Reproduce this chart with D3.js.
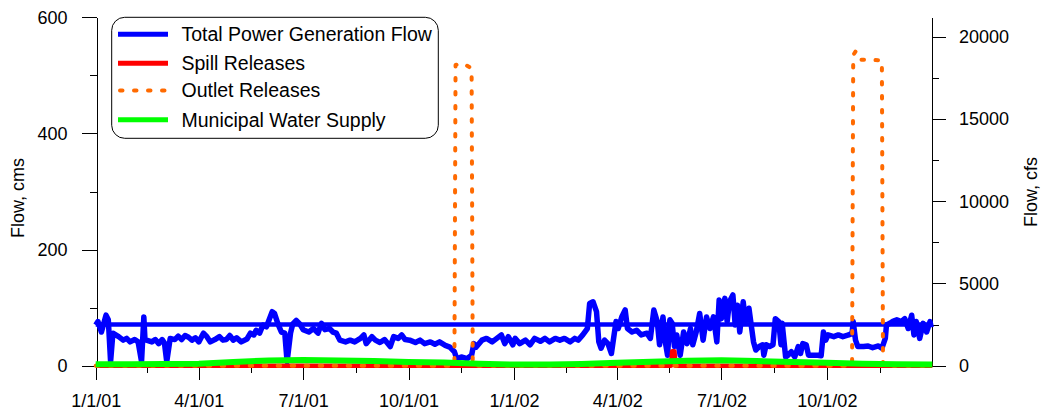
<!DOCTYPE html>
<html>
<head>
<meta charset="utf-8">
<script src="https://cdn.jsdelivr.net/npm/d3@7"></script>
<style>
  body { margin: 0; background: #fff; }
  svg { display: block; font-family: "Liberation Sans", Arial, sans-serif; }
  .axis path, .axis line { stroke: #000; shape-rendering: crispEdges; }
  .axis text { font-size: 18px; fill: #000; }
</style>
</head>
<body>
<svg id="chart" width="1043" height="417"></svg>
<script>
// days counted from 1/1/01, values in cms
var powerDays = [0, 2, 5, 9, 11, 13, 15, 20, 24, 27, 30, 34, 37, 40, 42, 43, 49, 52, 55, 58, 60, 62, 65, 69, 72, 75, 78, 81, 84, 87, 90, 94, 97, 100, 104, 108, 111, 114, 117, 120, 123, 127, 132, 135, 138, 140, 143, 146, 149, 154, 156, 159, 162, 165, 167, 170, 172, 175, 178, 181, 186, 190, 194, 197, 200, 204, 207, 210, 213, 218, 222, 226, 231, 234, 236, 241, 244, 248, 252, 257, 260, 264, 267, 270, 274, 279, 283, 287, 292, 296, 300, 305, 309, 313, 315, 319, 324, 328, 330, 332, 337, 341, 346, 350, 354, 357, 360, 364, 366, 370, 375, 379, 383, 388, 392, 396, 401, 405, 409, 414, 418, 421, 425, 429, 431, 434, 437, 439, 441, 444, 447, 450, 454, 456, 459, 462, 464, 468, 472, 476, 481, 484, 487, 490, 492, 495, 497, 499, 501, 503, 505, 507, 510, 513, 516, 519, 521, 524, 527, 530, 533, 536, 539, 542, 544, 546, 548, 549, 551, 553, 556, 558, 560, 562, 565, 567, 570, 572, 574, 576, 579, 582, 583, 585, 588, 591, 593, 596, 598, 599, 602, 604, 607, 610, 613, 615, 617, 620, 622, 626, 630, 633, 635, 637, 639, 644, 648, 652, 657, 660, 661, 663, 665, 670, 674, 678, 683, 686, 689, 690, 693, 696, 699, 703, 706, 709, 712, 714, 716, 719, 722, 725, 728, 729];
var powerFlow = [70, 76, 58, 87, 79, 7, 56, 50, 44, 47, 41, 45, 41, 7, 84, 45, 41, 45, 38, 45, 39, 7, 47, 45, 51, 45, 52, 49, 44, 48, 41, 56, 50, 41, 45, 50, 44, 45, 52, 44, 48, 41, 46, 56, 53, 61, 56, 70, 67, 93, 90, 72, 58, 56, 7, 56, 72, 78, 72, 62, 58, 64, 56, 73, 62, 64, 58, 56, 44, 41, 44, 41, 47, 53, 38, 50, 44, 40, 45, 33, 50, 47, 53, 45, 44, 40, 44, 38, 41, 37, 41, 35, 32, 24, 12, 15, 12, 18, 38, 32, 44, 47, 41, 47, 53, 38, 50, 36, 47, 38, 44, 36, 47, 42, 47, 41, 47, 44, 47, 41, 47, 44, 53, 64, 107, 110, 93, 41, 30, 44, 38, 21, 76, 64, 84, 96, 64, 58, 61, 53, 56, 47, 96, 76, 36, 84, 41, 18, 79, 73, 33, 53, 18, 58, 38, 64, 36, 58, 90, 44, 84, 64, 84, 41, 113, 81, 107, 116, 76, 110, 122, 70, 104, 58, 110, 76, 99, 70, 41, 27, 33, 36, 18, 36, 33, 36, 81, 76, 36, 73, 15, 18, 24, 15, 33, 21, 38, 36, 18, 18, 18, 17, 58, 44, 53, 50, 53, 50, 53, 56, 76, 44, 33, 33, 34, 31, 34, 30, 47, 70, 73, 77, 79, 76, 81, 64, 87, 53, 76, 47, 73, 58, 76, 66];
var powerRefDays = [0, 730];
var powerRefFlow = [71, 71];

var spillDays = [0, 502, 503, 505, 506, 730];
var spillFlow = [0, 0, 25, 25, 0, 0];

var outletDays = [0, 313, 314, 320, 328, 329, 660, 661, 663, 666, 686, 687, 730];
var outletFlow = [0, 0, 518, 521, 512, 0, 0, 535, 541, 527, 526, 0, 0];

var muniDays = [0, 31, 59, 90, 120, 151, 181, 212, 243, 273, 304, 334, 365, 396, 424, 455, 485, 516, 546, 577, 608, 638, 669, 699, 730];
var muniFlow = [2.5, 2.5, 3, 3.5, 6.5, 9, 10, 9, 8, 6.5, 5.5, 3.5, 2, 2, 3, 5, 7, 8.5, 9.5, 8, 6.5, 5, 3.5, 2.5, 2];

var seriesNames = ["Total Power Generation Flow", "Spill Releases", "Outlet Releases", "Municipal Water Supply"];
var seriesColors = ["#0000ff", "#ff0000", "#ff6a00", "#00ff00"];

var leftTicks = [0, 200, 400, 600],
    leftMinor = [100, 300, 500],
    rightTicks = [0, 5000, 10000, 15000, 20000],
    rightMinor = [2500, 7500, 12500, 17500],
    quarterTicks = ["2001-01-01", "2001-04-01", "2001-07-01", "2001-10-01", "2002-01-01", "2002-04-01", "2002-07-01", "2002-10-01", "2003-01-01"];

var CFS_PER_CMS = 35.3147;
var start = new Date(2001, 0, 1);
var parse = d3.timeParse("%Y-%m-%d");

function toPoints(days, vals) {
  return days.map(function(d, i) { return { date: d3.timeDay.offset(start, d), v: vals[i] }; });
}

var svg = d3.select("#chart");

var x = d3.scaleTime().domain([start, new Date(2003, 0, 1)]).range([95.7, 932.3]);
var y = d3.scaleLinear().domain([0, 600]).range([365.7, 17.3]);
var yR = d3.scaleLinear().domain([0, 600 * CFS_PER_CMS]).range([365.7, 17.3]);

var quarters = quarterTicks.map(parse);
var majorX = quarters.slice(0, 8);
var minorX = [];
for (var i = 0; i < quarters.length - 1; i++) {
  minorX.push(new Date((quarters[i].getTime() + quarters[i + 1].getTime()) / 2));
}

// x axis
svg.append("g").attr("class", "axis").attr("transform", "translate(0,365.7)")
    .call(d3.axisBottom(x).tickValues(majorX).tickSize(14).tickSizeOuter(0).tickPadding(15)
      .tickFormat(d3.timeFormat("%-m/%-d/%y")));
svg.append("g").attr("class", "axis").attr("transform", "translate(0,365.7)")
    .call(d3.axisBottom(x).tickValues(minorX).tickSize(7).tickSizeOuter(0).tickFormat(""))
    .select(".domain").remove();

// left axis
svg.append("g").attr("class", "axis").attr("transform", "translate(96.5,0)")
    .call(d3.axisLeft(y).tickValues(leftTicks).tickSize(15).tickSizeOuter(0).tickPadding(14));
svg.append("g").attr("class", "axis").attr("transform", "translate(96.5,0)")
    .call(d3.axisLeft(y).tickValues(leftMinor).tickSize(7).tickSizeOuter(0).tickFormat(""))
    .select(".domain").remove();

// right axis
svg.append("g").attr("class", "axis").attr("transform", "translate(932,0)")
    .call(d3.axisRight(yR).tickValues(rightTicks).tickSize(14).tickSizeOuter(0).tickPadding(13)
      .tickFormat(d3.format("d")));
svg.append("g").attr("class", "axis").attr("transform", "translate(932,0)")
    .call(d3.axisRight(yR).tickValues(rightMinor).tickSize(7).tickSizeOuter(0).tickFormat(""))
    .select(".domain").remove();

// axis titles
svg.append("text").attr("transform", "translate(24,198) rotate(-90)")
    .attr("text-anchor", "middle").style("font-size", "18px").text("Flow, cms");
svg.append("text").attr("transform", "translate(1037,192) rotate(-90)")
    .attr("text-anchor", "middle").style("font-size", "18px").text("Flow, cfs");

var line = d3.line().x(function(d) { return x(d.date); }).y(function(d) { return y(d.v); });

var plot = svg.append("g").attr("fill", "none").attr("stroke-linejoin", "round");

plot.append("path").datum(toPoints(powerRefDays, powerRefFlow))
    .attr("stroke", seriesColors[0]).attr("stroke-width", 4.5).attr("d", line);
plot.append("path").datum(toPoints(powerDays, powerFlow))
    .attr("stroke", seriesColors[0]).attr("stroke-width", 5.5).attr("d", line);
plot.append("path").datum(toPoints(spillDays, spillFlow))
    .attr("stroke", seriesColors[1]).attr("stroke-width", 4.5).attr("d", line);
plot.append("path").datum(toPoints(outletDays, outletFlow))
    .attr("stroke", seriesColors[2]).attr("stroke-width", 4)
    .attr("stroke-linecap", "round").attr("stroke-dasharray", "2.5,11.5").attr("d", line);
plot.append("path").datum(toPoints(muniDays, muniFlow))
    .attr("stroke", seriesColors[3]).attr("stroke-width", 6).attr("d", line);

// legend
var legend = svg.append("g");
legend.append("rect").attr("x", 111.7).attr("y", 17.3).attr("width", 326.6).attr("height", 121)
    .attr("rx", 13).attr("fill", "#fff").attr("stroke", "#000").attr("stroke-width", 1);
var rowY = [34.3, 63.3, 90.5, 119.8];
seriesNames.forEach(function(name, i) {
  var l = legend.append("line").attr("x1", 118).attr("x2", 168).attr("y1", rowY[i]).attr("y2", rowY[i])
      .attr("stroke", seriesColors[i]).attr("stroke-width", 5);
  if (i === 2) l.attr("stroke-width", 4).attr("stroke-linecap", "round").attr("stroke-dasharray", "2.5,11.5").attr("x1", 120);
  legend.append("text").attr("x", 181.5).attr("y", rowY[i] + 6.8).style("font-size", "19.5px").text(name);
});
</script>
</body>
</html>
